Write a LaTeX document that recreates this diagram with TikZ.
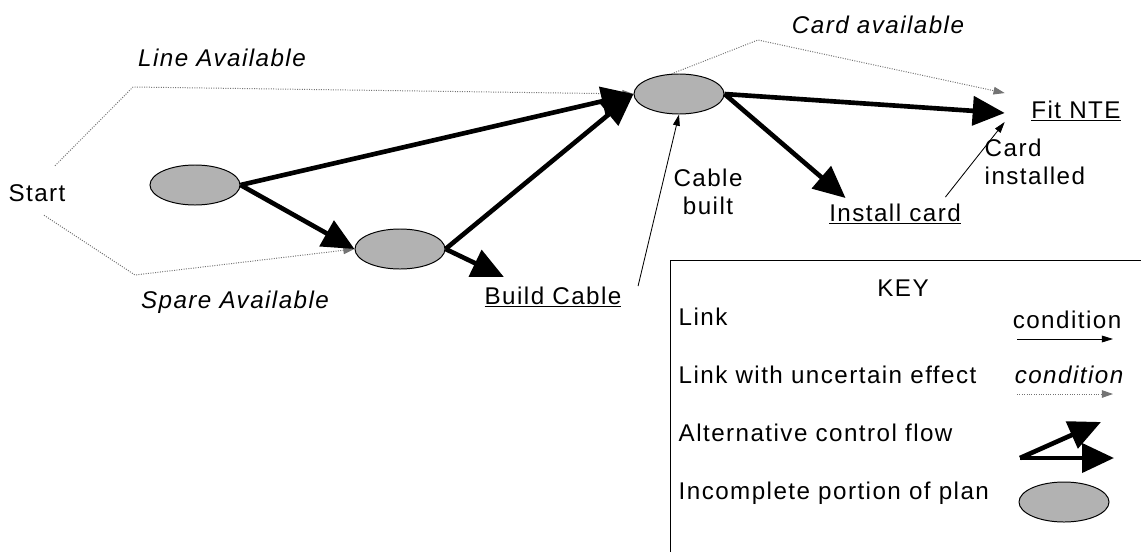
\documentclass[tikz,border=0pt]{standalone}
\usepackage{fontspec}
\setmainfont[LetterSpace=6]{Liberation Sans}
\usepackage{tikz}
\usetikzlibrary{shapes.geometric, arrows.meta, positioning, calc}
\newcommand{\pfont}{\fontsize{17.2}{19.5}\selectfont}
\tikzset{
    plan/.style={ellipse, draw=black, line width=0.7pt, fill=black!30,
                 minimum width=2.25cm, minimum height=1cm, inner sep=0pt},
    lbl/.style={font=\pfont, inner sep=1pt},
    cnd/.style={font=\pfont\itshape, inner sep=1pt},
    arr/.style={-{Triangle[length=0.8cm, width=0.72cm]}, line width=3.3pt},
    lnk/.style={-{Triangle[length=0.28cm, width=0.17cm]}, line width=0.6pt},
    unc/.style={-{Triangle[length=0.28cm, width=0.19cm]}, line width=0.7pt,
                draw=black!55, densely dotted}
}

\begin{document}
\begin{tikzpicture}[x=0.025cm, y=-0.025cm]
\useasboundingbox (0,0) rectangle (1141,552);

% plan portions
\node[plan] at (195,185) (p1) {};
\node[plan] at (400,249) (p2) {};
\node[plan] at (679,94)  (p3) {};

% actions
\node[lbl] at (37,193)   (start)   {Start};
\node[lbl] at (553,297)  (build)   {\underline{Build Cable}};
\node[lbl] at (895,214)  (install) {\underline{Install card}};
\node[lbl] at (1076,111) (fit)     {\underline{Fit NTE}};

% conditions
\node[cnd] at (222,58)  (lineav)  {Line Available};
\node[cnd] at (235,302) (spareav) {Spare Available};
\node[cnd] at (878,25)  (cardav)  {Card available};
\node[lbl, align=center] at (708,192) (cblt) {Cable\\built};
\node[lbl, align=left, anchor=west] at (983,162) (cins) {Card\\installed};

% links with uncertain effect
\draw[unc] ($(start.north)+(18,-17)$) -- (133,87) -- (p3.west);
\draw[unc] ($(start.south)+(7,12)$) -- (135,275) -- (p2.west);
\draw[unc] (p3.110) -- (758,40) -- ($(fit.north west)+(-25,-6)$);

% links
\draw[lnk] ($(build.north east)+(15,1)$) -- (p3.south);
\draw[lnk] ($(install.north east)+(-17,-5)$) -- ($(fit.south west)+(-25,-1)$);

% control flow
\draw[arr] (p1.east) -- (p3.west);
\draw[arr] (p1.east) -- (p2.west);
\draw[arr] (p2.east) -- (p3.west);
\draw[arr] (p2.east) -- ($(build.north west)+(21,-8)$);
\draw[arr] (p3.east) -- ($(fit.west)+(-25,2)$);
\draw[arr] (p3.east) -- ($(install.north west)+(18,-4)$);

% key
\draw[line width=0.7pt] (670,552) |- (1141,260);
\node[lbl] at (903,288) (key) {KEY};

\node[lbl, anchor=west] at (677,317) (k1)  {Link};
\node[lbl]              at (1067,320) (k1c) {condition};
\coordinate (k1a) at (1017,339);
\coordinate (k1b) at (1113,339);
\draw[lnk] (k1a) -- (k1b);

\node[lbl, anchor=west] at (677,375) (k2)  {Link with uncertain effect};
\node[cnd]              at (1069,375) (k2c) {condition};
\coordinate (k2a) at (1017,394);
\coordinate (k2b) at (1113,394);
\draw[unc] (k2a) -- (k2b);

\node[lbl, anchor=west] at (677,433) (k3) {Alternative control flow};
\coordinate (k3a) at (1020,458);
\coordinate (k3b) at (1101,422);
\coordinate (k3c) at (1114,458);
\draw[arr] (k3a) -- (k3b);
\draw[arr] (k3a) -- (k3c);

\node[lbl, anchor=west] at (677,493) (k4) {Incomplete portion of plan};
\node[plan] at (1064,502) (k4e) {};
\end{tikzpicture}
\end{document}
